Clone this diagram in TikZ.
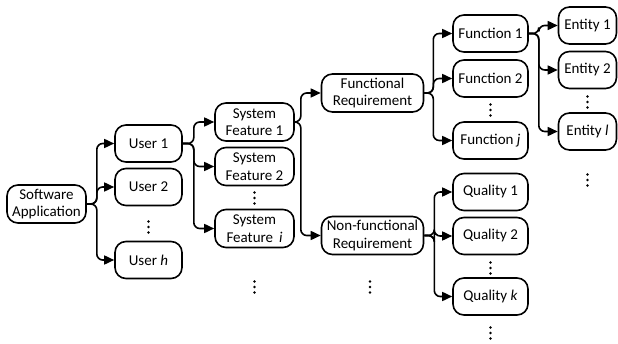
\documentclass[tikz,border=0pt]{standalone}
\usepackage{fontspec}
\setmainfont{Carlito}
\usetikzlibrary{arrows.meta}
\begin{document}
\begin{tikzpicture}[x=1pt,y=-1pt,
  box/.style={draw, line width=1.6pt, rounded corners=11pt, align=center,
    inner sep=0pt, font=\fontsize{15}{17.5}\selectfont},
  sabox/.style={box, minimum width=79pt, minimum height=38pt},
  userbox/.style={box, minimum width=67pt, minimum height=37pt},
  sfbox/.style={box, minimum width=79pt, minimum height=38pt},
  reqbox/.style={box, minimum width=102pt, minimum height=38pt},
  fnbox/.style={box, minimum width=75pt, minimum height=37pt},
  entbox/.style={box, minimum width=58pt, minimum height=37pt},
  link/.style={line width=1.6pt, rounded corners=6pt,
    -{Triangle[length=10pt,width=9pt]}},
  % vertical ellipsis: three stacked dots
  more/.style={inner sep=0pt, minimum width=4pt, minimum height=15pt,
    path picture={\fill (path picture bounding box.center)
      ++(0,-5.5) circle (1.35pt) ++(0,5.5) circle (1.35pt)
      ++(0,5.5) circle (1.35pt);}}]
\useasboundingbox (0,0) rectangle (618,344);

% root
\node[sabox] (sa) at (46.5,204) {Software\\Application};

% users
\node[userbox] (u1) at (148.5,143.5) {User 1};
\node[userbox] (u2) at (148.5,187) {User 2};
\node[more] (du) at (148.5,227) {};
\node[userbox] (uh) at (148.5,260) {User \textit{h}};

% system features
\node[sfbox] (sf1) at (254.5,122) {System\\Feature 1};
\node[sfbox] (sf2) at (254.5,166.5) {System\\Feature 2};
\node[more] (dsf) at (254.5,198) {};
\node[sfbox] (sfi) at (254.5,228.5) {System\\Feature \,\textit{i}};
\node[more] (dsf2) at (254.5,287) {};

% requirements
\node[reqbox] (fr) at (372.5,93) {Functional\\Requirement};
\node[reqbox] (nfr) at (372.5,235.5) {Non-functional\\Requirement};
\node[more] (dreq) at (370,287) {};

% functions
\node[fnbox] (f1) at (490.5,33.5) {Function 1};
\node[fnbox] (f2) at (490.5,78.5) {Function 2};
\node[more] (dfn) at (490.5,110) {};
\node[fnbox] (fj) at (490.5,140.5) {Function \textit{j}};

% entities
\node[entbox] (e1) at (587.5,25.5) {Entity 1};
\node[entbox] (e2) at (587.5,70) {Entity 2};
\node[more] (dent) at (587.5,102) {};
\node[entbox] (el) at (587.5,131.5) {Entity \textit{l}};
\node[more] (dent2) at (587.5,180) {};

% qualities
\node[fnbox] (q1) at (490.5,192) {Quality 1};
\node[fnbox] (q2) at (490.5,236) {Quality 2};
\node[more] (dq) at (490.5,268) {};
\node[fnbox] (qk) at (490.5,296.5) {Quality \textit{k}};
\node[more] (dq2) at (490.5,333) {};

% fan-out connectors
\foreach \t in {u1,u2,uh} \draw[link] (sa.east) -- ++(10,0) |- (\t.west);
\foreach \t in {sf1,sf2,sfi} \draw[link] (u1.east) -- ++(11,0) |- (\t.west);
\foreach \t in {fr,nfr} \draw[link] (sf1.east) -- ++(6,0) |- (\t.west);
\foreach \t in {f1,f2,fj} \draw[link] (fr.east) -- ++(9,0) |- (\t.west);
\foreach \t in {q1,q2,qk} \draw[link] (nfr.east) -- ++(10,0) |- (\t.west);
\foreach \t in {e1,e2,el} \draw[link] (f1.east) -- ++(10,0) |- (\t.west);
\end{tikzpicture}
\end{document}
